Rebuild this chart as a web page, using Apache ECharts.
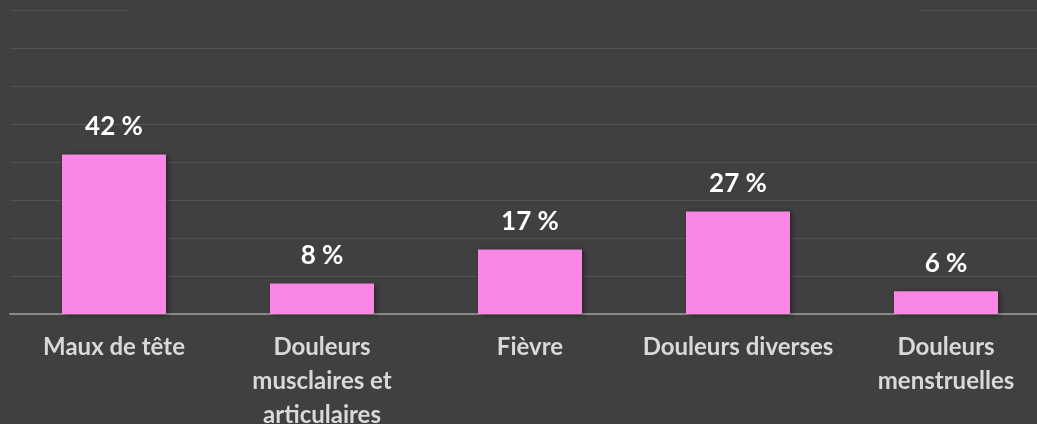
<!DOCTYPE html>
<html>
<head>
<meta charset="utf-8">
<script src="https://cdn.jsdelivr.net/npm/echarts@6/dist/echarts.min.js"></script>
<style>
  html, body { margin: 0; padding: 0; background: #404040; }
  #chart { width: 1037px; height: 424px; }
</style>
</head>
<body>
<div id="chart"></div>
<script>
// catégories (retours à la ligne comme dans l'original)
const categories = [
  'Maux de tête',
  'Douleurs\nmusclaires et\narticulaires',
  'Fièvre',
  'Douleurs diverses',
  'Douleurs\nmenstruelles'
]
const values = [42, 8, 17, 27, 6]
const yMin = 0
const yMax = 80
const yStep = 10

const myChart = echarts.init(document.getElementById('chart'))
myChart.setOption({
  backgroundColor: '#404040',
  textStyle: { fontFamily: 'Lato' },
  grid: { left: 10, right: -13, top: 10, bottom: 110, outerBoundsMode: 'none', containLabel: false },
  // cache la ligne du haut derrière le titre (hors cadre)
  graphic: [{
    type: 'rect',
    shape: { x: 129, y: 4, width: 792, height: 12 },
    style: { fill: '#404040' },
    z: 100
  }],
  xAxis: {
    type: 'category',
    data: categories,
    axisTick: { show: false },
    axisLine: { lineStyle: { color: '#8a8a8a', width: 2 } },
    axisLabel: {
      color: '#d9d9d9',
      fontSize: 24,
      fontWeight: 'bold',
      lineHeight: 34,
      margin: 16,
      interval: 0
    }
  },
  yAxis: {
    type: 'value',
    min: yMin,
    max: yMax,
    interval: yStep,
    axisLabel: { show: false },
    axisLine: { show: false },
    axisTick: { show: false },
    splitLine: { lineStyle: { color: '#535353', width: 1 } }
  },
  series: [{
    type: 'bar',
    data: values,
    barWidth: '50%',
    itemStyle: {
      color: '#f987e5',
      shadowColor: 'rgba(0,0,0,0.45)',
      shadowBlur: 5,
      shadowOffsetX: 2,
      shadowOffsetY: 1
    },
    label: {
      show: true,
      position: 'top',
      distance: 15,
      color: '#ffffff',
      fontSize: 26,
      fontWeight: 'bold',
      formatter: p => p.value + ' %'
    }
  }]
})
</script>
</body>
</html>
